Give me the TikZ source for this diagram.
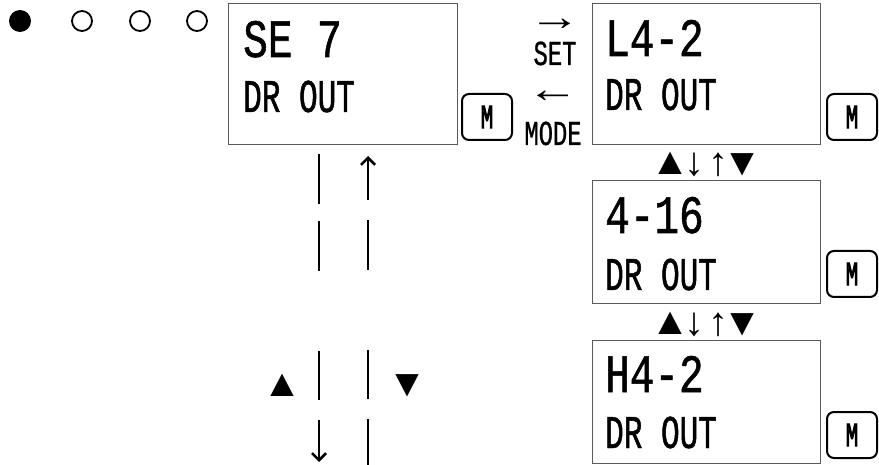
\documentclass[tikz,border=0pt]{standalone}
\usepackage{fontspec}
\usetikzlibrary{arrows.meta}
\newfontfamily\lcdbig[FakeStretch=0.76, FakeBold=1]{Liberation Mono}
\newfontfamily\lcdsmall[FakeStretch=0.66, FakeBold=1]{Liberation Mono}
\newfontfamily\keyfont[FakeStretch=0.68, FakeBold=0.8]{Liberation Mono}
\newfontfamily\keybold[FakeStretch=0.6, FakeBold=2.5]{Liberation Mono}
\newfontfamily\symfont{Liberation Mono}
\newfontfamily\arrfont[FakeStretch=1.3]{Liberation Mono}

\tikzset{
  lcdbox/.style={draw=black!65, line width=1.2pt, anchor=north west, minimum width=228pt, inner sep=0pt},
  topline/.style={anchor=base west, inner sep=0pt, font=\lcdbig\fontsize{54}{54}\selectfont},
  botline/.style={anchor=base west, inner sep=0pt, font=\lcdsmall\fontsize{47}{47}\selectfont},
  mkey/.style={draw, line width=2pt, rounded corners=7pt, minimum width=50pt, minimum height=46pt, inner sep=0pt, font=\keybold\fontsize{34}{34}\selectfont},
  keylabel/.style={anchor=base, inner sep=0pt, font=\keyfont\fontsize{35}{35}\selectfont},
  keyarrow/.style={inner sep=0pt, text height=12pt, text depth=0pt, font=\arrfont\fontsize{40}{40}\selectfont},
  updown/.style={inner sep=0pt, font=\symfont\fontsize{40}{40}\selectfont},
  flow/.style={line width=2.6pt, -{Straight Barb[length=7pt,width=14pt]}},
  fulldot/.style={circle, fill, minimum size=22pt, inner sep=0pt},
  emptydot/.style={circle, draw, line width=1.8pt, minimum size=20pt, inner sep=0pt}
}

\begin{document}
\begin{tikzpicture}[x=1pt, y=-1pt]
\useasboundingbox (0,0) rectangle (879,465);
% step dots
\node[fulldot] (dot1) at (20,21) {};
\node[emptydot] (dot2) at (82,21) {};
\node[emptydot] (dot3) at (140,21) {};
\node[emptydot] (dot4) at (197,21) {};
% display boxes
\node[lcdbox, minimum width=229pt, minimum height=141pt] (se7) at (228,3) {};
\node[lcdbox, minimum height=141pt] (l42) at (592,3) {};
\node[lcdbox, minimum height=123pt] (t416) at (592,180) {};
\node[lcdbox, minimum height=123pt] (h42) at (592,340) {};
\node[topline] (se7a) at ([shift={(15,54)}]se7.north west) {SE 7};
\node[botline] (se7b) at ([shift={(15,109)}]se7.north west) {DR OUT};
\node[topline] (l42a) at ([shift={(13,53)}]l42.north west) {L4-2};
\node[botline] (l42b) at ([shift={(13,107)}]l42.north west) {DR OUT};
\node[topline] (t416a) at ([shift={(13,53)}]t416.north west) {4-16};
\node[botline] (t416b) at ([shift={(13,110)}]t416.north west) {DR OUT};
\node[topline] (h42a) at ([shift={(13,52)}]h42.north west) {H4-2};
\node[botline] (h42b) at ([shift={(13,108)}]h42.north west) {DR OUT};
% M keys
\node[mkey] (mkey1) at (487,117) {M};
\node[mkey] (mkey2) at (852,117) {M};
\node[mkey] (mkey3) at (852,274) {M};
\node[mkey] (mkey4) at (852,435) {M};
% set / mode
\node[keyarrow] (setarr) at (555,25) {→};
\node[keylabel] (setlbl) at (555,65) {SET};
\node[keyarrow] (modearr) at (553,97) {←};
\node[keylabel] (modelbl) at (553,145) {MODE};
% up / down between boxes
\node[updown] (row1) at (707,164) {▲↓↑▼};
\node[updown] (row2) at (707,324) {▲↓↑▼};
\node[updown] (uptri) at (282,386) {▲};
\node[updown] (dntri) at (407,386) {▼};
% lines below SE 7
\coordinate (lend) at (319,462);
\coordinate (rend) at (368,465);
\coordinate (rtop) at (368,156);
\draw[flow, dash pattern=on 0pt off 9pt on 50pt off 17pt on 50pt off 80pt on 49pt off 20pt on 50pt] (se7.south -| lend) -- (lend);
\draw[flow, dash pattern=on 46pt off 20pt on 49pt off 80pt on 50pt off 20pt on 50pt] (rend) -- (rtop);
\end{tikzpicture}
\end{document}
